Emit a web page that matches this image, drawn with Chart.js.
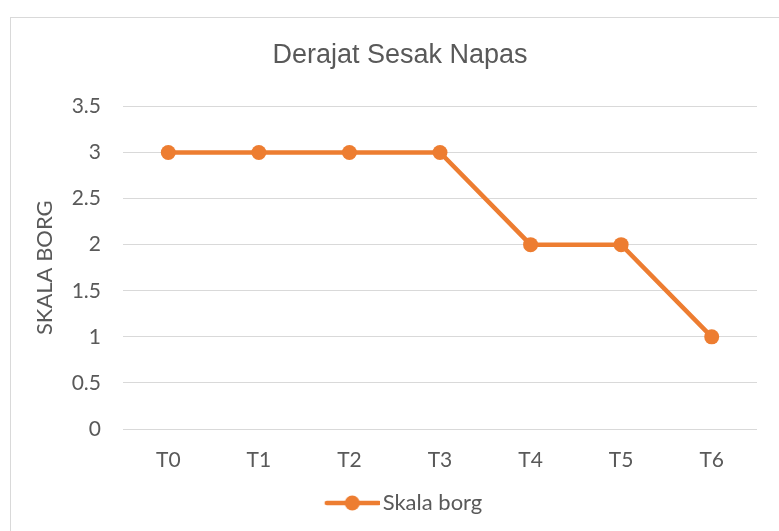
<!DOCTYPE html>
<html>
<head>
<meta charset="utf-8">
<script src="https://cdn.jsdelivr.net/npm/chart.js@4/dist/chart.umd.min.js"></script>
<style>
html,body{margin:0;padding:0;background:#fff;}
#wrap{position:relative;width:779px;height:531px;}
</style>
</head>
<body>
<div id="wrap"><canvas id="c" width="779" height="531"></canvas></div>
<script>
const categories = ["T0","T1","T2","T3","T4","T5","T6"];
const skalaBorg = [3,3,3,3,2,2,1];
const yTickValues = [0,0.5,1,1.5,2,2.5,3,3.5];
const chartTitle = "Derajat Sesak Napas";
const yAxisTitle = "SKALA BORG";
const seriesName = "Skala borg";

const ORANGE = "#ED7D31";
const TEXT = "#595959";
const GRID = "#D9D9D9";
const FONT = "Lato, 'Open Sans', sans-serif";
const TITLE_FONT = "'Liberation Sans', Arial, sans-serif";

// legend marker image: line with a dot (transparent margin on the left)
const mk = document.createElement('canvas');
mk.width = 70; mk.height = 18;
(function(){
  const g = mk.getContext('2d');
  g.strokeStyle = ORANGE; g.lineWidth = 4.5; g.lineCap = 'round';
  g.beginPath(); g.moveTo(17, 9); g.lineTo(69, 9); g.stroke();
  g.fillStyle = ORANGE; g.beginPath(); g.arc(42.5, 9, 7.5, 0, Math.PI*2); g.fill();
})();

const frame = {
  id: 'frame',
  beforeDraw(chart){
    const ctx = chart.ctx;
    ctx.save();
    ctx.fillStyle = '#fff';
    ctx.fillRect(0,0,chart.width,chart.height);
    ctx.strokeStyle = GRID; ctx.lineWidth = 1;
    ctx.strokeRect(10.5, 17.5, 900, 700);
    ctx.restore();
  }
};

new Chart(document.getElementById('c'), {
  type: 'line',
  data: {
    labels: categories,
    datasets: [{
      label: seriesName,
      data: skalaBorg,
      borderColor: ORANGE,
      backgroundColor: ORANGE,
      borderWidth: 4.5,
      pointRadius: 7.5,
      pointHoverRadius: 7.5,
      pointBackgroundColor: ORANGE,
      pointBorderColor: ORANGE,
      pointBorderWidth: 0,
      tension: 0,
      pointStyle: 'circle'
    }]
  },
  options: {
    responsive: false,
    animation: false,
    devicePixelRatio: 1,
    layout: { padding: { left: 21, right: 0, top: 17, bottom: 7 } },
    plugins: {
      title: {
        display: true,
        text: chartTitle,
        color: TEXT,
        font: { family: TITLE_FONT, size: 27, weight: 'normal' },
        padding: { top: 22, bottom: 35 }
      },
      legend: {
        display: true,
        position: 'bottom',
        labels: {
          color: TEXT,
          font: { family: FONT, size: 22 },
          usePointStyle: true,
          pointStyle: mk,
          pointStyleWidth: 54,
          boxHeight: 18,
          padding: 8,
          generateLabels(chart){
            return [{ text: seriesName, pointStyle: mk, fontColor: TEXT, strokeStyle: ORANGE, fillStyle: ORANGE, lineWidth: 0, datasetIndex: 0 }];
          }
        }
      },
      tooltip: { enabled: false }
    },
    scales: {
      x: {
        offset: true,
        grid: { display: false, drawTicks: false },
        border: { display: false },
        ticks: { color: TEXT, font: { family: FONT, size: 21 }, padding: 19 },
        afterFit(s){ s.height = 55; }
      },
      y: {
        min: 0, max: 3.5,
        afterBuildTicks(s){ s.ticks = yTickValues.map(v => ({ value: v })); },
        ticks: { color: TEXT, font: { family: FONT, size: 21 }, padding: 22,
          callback: v => String(Math.round(v * 10) / 10) },
        grid: { color: GRID, lineWidth: 1, drawTicks: false },
        border: { display: false },
        title: { display: true, text: yAxisTitle, color: TEXT, font: { family: FONT, size: 22 }, padding: { top: 11, bottom: 0 } },
        afterFit(s){ s.width = 102; }
      },
      y2: {
        position: 'right',
        display: true,
        grid: { display: false, drawTicks: false },
        border: { display: false },
        ticks: { display: false },
        afterFit(s){ s.width = 22; }
      }
    }
  },
  plugins: [frame]
});
</script>
</body>
</html>
